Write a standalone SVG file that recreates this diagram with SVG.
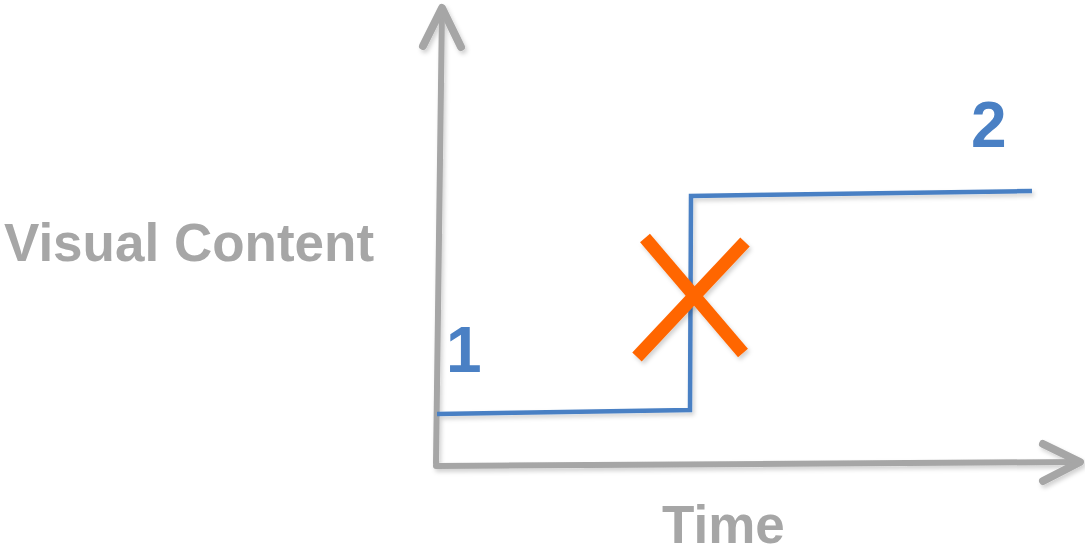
<svg xmlns="http://www.w3.org/2000/svg" width="1085" height="552" viewBox="0 0 1085 552">
  <defs>
    <filter id="sh" x="-20%" y="-20%" width="140%" height="140%">
      <feDropShadow dx="2" dy="3" stdDeviation="2" flood-color="#000" flood-opacity="0.18"/>
    </filter>
  </defs>
  <style>
    .axis { fill: none; stroke: #A6A6A6; stroke-width: 6; stroke-linecap: round; stroke-linejoin: round; }
    .head { fill: none; stroke: #A6A6A6; stroke-width: 8; stroke-linecap: round; stroke-linejoin: round; }
    .step { fill: none; stroke: #4A80C4; stroke-width: 4.5; stroke-linejoin: miter; }
    .cross { stroke: #FF6600; stroke-width: 13; stroke-linecap: butt; }
    .lbl { font-family: "Liberation Sans", Arial, sans-serif; font-weight: bold; }
    .grey { fill: #A6A6A6; font-size: 53px; }
    .blue { fill: #4A80C4; font-size: 64px; }
  </style>
  <rect width="1085" height="552" fill="#FFFFFF"/>
  <g id="connectors" filter="url(#sh)">
    <g id="y-axis">
      <line class="axis" x1="436" y1="463" x2="442" y2="9"/>
      <polyline class="head" points="423,46 442,8 461,47"/>
    </g>
    <g id="x-axis">
      <line class="axis" x1="436" y1="466" x2="1079" y2="462"/>
      <polyline class="head" points="1043,444 1080,462 1043,481"/>
    </g>
    <polyline id="step-line" class="step" points="437,414 690,410 691,196 1032,191"/>
  </g>
  <g id="cross" filter="url(#sh)">
    <line class="cross" x1="645" y1="238" x2="743" y2="353"/>
    <line class="cross" x1="745" y1="242" x2="637" y2="357"/>
  </g>
  <g id="label-visual-content">
    <text class="lbl grey" x="4" y="261">Visual Content</text>
  </g>
  <g id="label-time">
    <text class="lbl grey" x="662" y="543">Time</text>
  </g>
  <g id="label-1">
    <text class="lbl blue" x="446" y="372">1</text>
  </g>
  <g id="label-2">
    <text class="lbl blue" x="971" y="147">2</text>
  </g>
</svg>
